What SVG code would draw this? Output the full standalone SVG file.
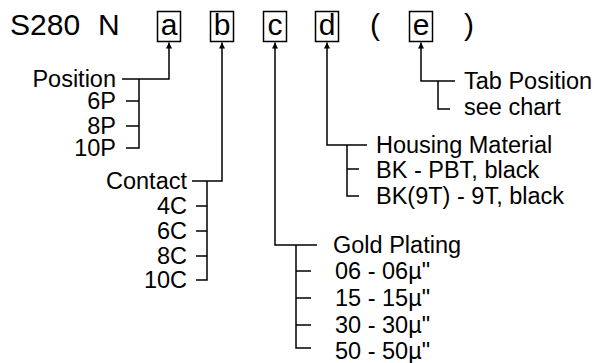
<svg xmlns="http://www.w3.org/2000/svg" width="600" height="363" viewBox="0 0 600 363">
<style>
text{font-family:"Liberation Sans",Arial,sans-serif;fill:#000}
.big{font-size:30px}
.lbl{font-size:23.5px}
.end{text-anchor:end}
.mid{text-anchor:middle}
.box{fill:none;stroke:#000;stroke-width:1.5}
.ln{fill:none;stroke:#000;stroke-width:1.5}
</style>
<defs>
<marker id="ah" viewBox="0 0 6 8" refX="6" refY="4" markerWidth="6" markerHeight="8" markerUnits="userSpaceOnUse" orient="auto">
<path d="M0,1 L6,4 L0,7 Z" fill="#000"/>
</marker>
</defs>
<rect width="600" height="363" fill="#fff"/>
<g id="title">
<text class="big" x="10" y="35">S280</text>
<text class="big" x="98" y="35">N</text>
<text class="big" x="370" y="35">(</text>
<text class="big" x="464" y="35">)</text>
</g>
<g id="box-a"><rect class="box" x="157.5" y="11.5" width="23" height="30"/><text class="big mid" x="169" y="35">a</text></g>
<g id="box-b"><rect class="box" x="210.5" y="11.5" width="23" height="30"/><text class="big mid" x="222" y="35">b</text></g>
<g id="box-c"><rect class="box" x="263.5" y="11.5" width="23" height="30"/><text class="big mid" x="275" y="35">c</text></g>
<g id="box-d"><rect class="box" x="315.5" y="11.5" width="23" height="30"/><text class="big mid" x="327" y="35">d</text></g>
<g id="box-e"><rect class="box" x="409.5" y="11.5" width="23" height="30"/><text class="big mid" x="421" y="35">e</text></g>
<g id="connectors" class="ln">
<path class="ln" d="M122,79 H169 V42.5" marker-end="url(#ah)"/>
<path class="ln" d="M139,79 V148 H126 M126,101 H139 M126,126 H139"/>
<path class="ln" d="M192,181 H222 V42.5" marker-end="url(#ah)"/>
<path class="ln" d="M207,181 V280 H196 M196,206 H207 M196,231 H207 M196,256 H207"/>
<path class="ln" d="M317,245 H275 V42.5" marker-end="url(#ah)"/>
<path class="ln" d="M296,245 V348 H311 M296,271 H311 M296,298 H311 M296,325 H311"/>
<path class="ln" d="M367,145 H327 V42.5" marker-end="url(#ah)"/>
<path class="ln" d="M347,145 V196 H359 M347,169 H359"/>
<path class="ln" d="M455,81 H421 V42.5" marker-end="url(#ah)"/>
<path class="ln" d="M438,81 V109 H450"/>
</g>
<g id="position">
<text class="lbl end" x="116" y="87">Position</text>
<text class="lbl end" x="116" y="109">6P</text>
<text class="lbl end" x="116" y="134">8P</text>
<text class="lbl end" x="116" y="156">10P</text>
</g>
<g id="contact">
<text class="lbl end" x="187" y="189">Contact</text>
<text class="lbl end" x="187" y="214">4C</text>
<text class="lbl end" x="187" y="239">6C</text>
<text class="lbl end" x="187" y="264">8C</text>
<text class="lbl end" x="187" y="288">10C</text>
</g>
<g id="gold">
<text class="lbl" x="333" y="253">Gold Plating</text>
<text class="lbl" x="335" y="279">06 - 06µ"</text>
<text class="lbl" x="335" y="306">15 - 15µ"</text>
<text class="lbl" x="335" y="333">30 - 30µ"</text>
<text class="lbl" x="335" y="359">50 - 50µ"</text>
</g>
<g id="housing">
<text class="lbl" x="376" y="153">Housing Material</text>
<text class="lbl" x="376" y="178">BK - PBT, black</text>
<text class="lbl" x="376" y="204">BK(9T) - 9T, black</text>
</g>
<g id="tab">
<text class="lbl" x="464" y="89">Tab Position</text>
<text class="lbl" x="464" y="115">see chart</text>
</g>
</svg>
